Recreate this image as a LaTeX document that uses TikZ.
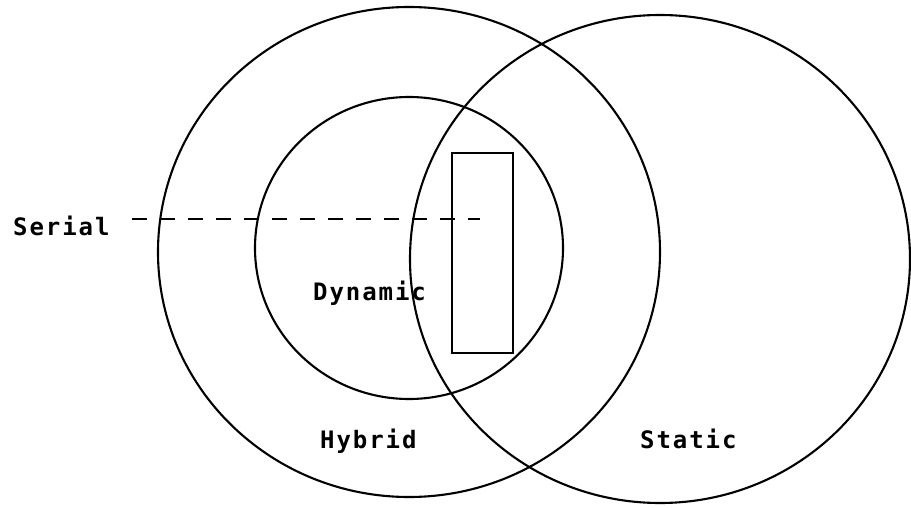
\documentclass[tikz,border=0pt]{standalone}
\usepackage{fontspec}
\newfontfamily\labelfont[LetterSpace=8]{DejaVu Sans Mono}
\usetikzlibrary{shapes.geometric}
\tikzset{
  setline/.style={draw=black, line width=2.1pt, ellipse, inner sep=0pt},
  boxline/.style={draw=black, line width=2.1pt, rectangle, inner sep=0pt},
  lbl/.style={font=\labelfont\bfseries\fontsize{24}{24}\selectfont, inner sep=0pt, anchor=base west},
  dashline/.style={line width=2.1pt, dash pattern=on 15pt off 13pt}
}
\begin{document}
\begin{tikzpicture}[x=1pt,y=-1pt]
\useasboundingbox (0,0) rectangle (911,508);
\node[setline, minimum width=502pt, minimum height=490pt] (hybridset) at (409,252) {};
\node[setline, minimum width=500pt, minimum height=488pt] (staticset) at (660,259) {};
\node[setline, minimum width=308pt, minimum height=302pt] (dynset) at (409,248) {};
\node[boxline, minimum width=61pt, minimum height=200pt] (serialbox) at (482.5,253) {};
\node[lbl] (serial) at (13,235) {Serial};
\node[lbl] (dynamic) at (313,300) {Dynamic};
\node[lbl] (hybrid) at (320,448) {Hybrid};
\node[lbl] (static) at (640,448) {Static};
\coordinate (dashstart) at (132,219);
\coordinate (dashend) at (480,219);
\draw[dashline] (dashstart) -- (dashend);
\end{tikzpicture}
\end{document}
